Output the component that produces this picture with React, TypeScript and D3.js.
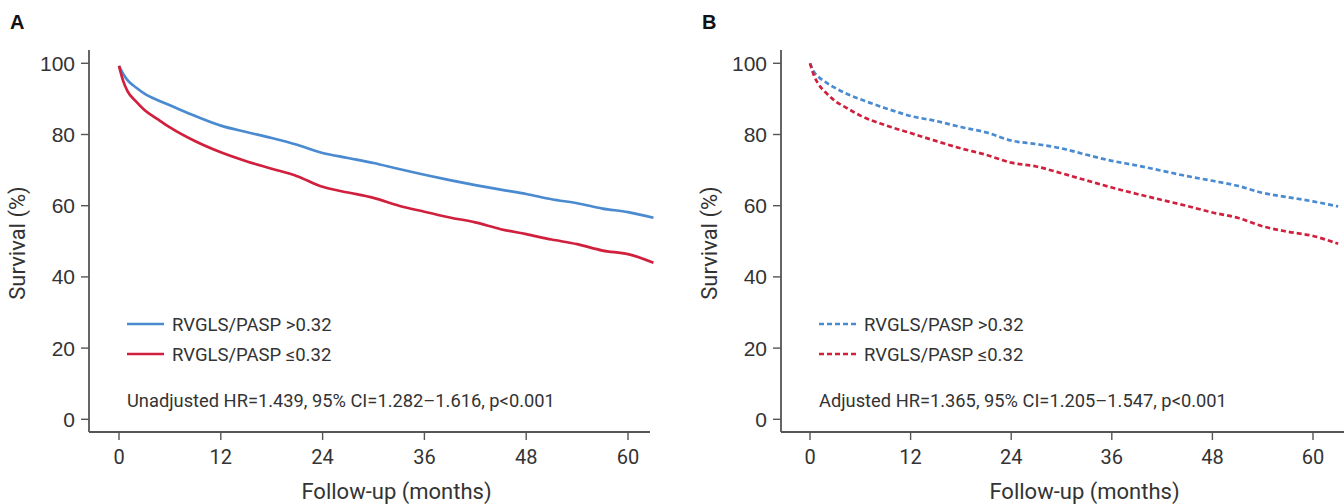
import React from "react";
import * as d3 from "d3";

const months = [0, 0.5, 1, 2, 3, 4.5, 6, 9, 12, 15, 18, 21, 24, 27, 30, 33, 36, 39, 42, 45, 48, 51, 54, 57, 60, 63];

const unadjHigh = [99.3, 97, 95.3, 93.2, 91.5, 89.7, 88.2, 85.2, 82.5, 80.7, 79, 77.1, 74.8, 73.4, 72, 70.3, 68.7, 67.2, 65.8, 64.5, 63.3, 61.8, 60.7, 59.2, 58.2, 56.6];
const unadjLow = [99.3, 95, 92.2, 89.3, 86.9, 84.4, 82, 78.1, 75, 72.5, 70.4, 68.3, 65.3, 63.7, 62.2, 60, 58.3, 56.7, 55.3, 53.4, 52, 50.5, 49.2, 47.4, 46.4, 44];

const adjMonths = [0, 0.5, 1, 2, 3, 4.5, 6, 9, 12, 15, 18, 21, 24, 27, 30, 33, 36, 39, 42, 45, 48, 51, 54, 57, 60, 63];
const adjHigh = [100, 97.5, 96.2, 94.5, 93.1, 91.3, 89.9, 87.4, 85.2, 83.8, 82.1, 80.6, 78.3, 77.3, 76.1, 74.3, 72.6, 71.3, 69.8, 68.3, 67, 65.6, 63.6, 62.4, 61.2, 59.8];
const adjLow = [100, 96.4, 94.2, 91.5, 89.4, 87.3, 85.3, 82.6, 80.4, 78.2, 76.1, 74.3, 72.1, 71, 69.1, 67.1, 65.1, 63.3, 61.6, 59.9, 58.1, 56.6, 54.2, 52.7, 51.5, 49.3];

const yTicks = [0, 20, 40, 60, 80, 100];
const xTicks = [0, 12, 24, 36, 48, 60];

const seriesLabels = ["RVGLS/PASP >0.32", "RVGLS/PASP \u22640.32"];
const hrTexts = [
  "Unadjusted HR=1.439, 95% CI=1.282\u20131.616, p<0.001",
  "Adjusted HR=1.365, 95% CI=1.205\u20131.547, p<0.001",
];
const panelLetters = ["A", "B"];

const BLUE = "#4a8ad0";
const RED = "#d0203e";
const AXIS = "#555";
const TXT = "#333";
const condensed = "'Roboto', 'Liberation Sans Narrow', sans-serif";
const helv = "'Liberation Sans', Arial, sans-serif";

type PanelProps = {
  ox: number;
  x0: number;
  x60: number;
  xEnd: number;
  letter: string;
  hr: string;
  xs: number[];
  high: number[];
  low: number[];
  dashed: boolean;
};

function Panel({ ox, x0, x60, xEnd, letter, hr, xs, high, low, dashed }: PanelProps) {
  const x = d3.scaleLinear().domain([0, 60]).range([x0, x60]);
  const y = d3.scaleLinear().domain([0, 100]).range([419.3, 63.3]);
  const axisY = 432;
  const axisTop = 50;
  const line = d3
    .line<number>()
    .x((_, i) => x(xs[i]))
    .y((d) => y(d))
    .curve(d3.curveMonotoneX);
  const dash = dashed ? "5 3" : undefined;
  const legX = ox + 38;
  return (
    <g>
      <text x={ox - 79} y={29} fontFamily={helv} fontWeight="bold" fontSize={20} fill="#111">
        {letter}
      </text>
      <line x1={ox} x2={ox} y1={axisTop} y2={axisY} stroke={AXIS} strokeWidth={1.8} />
      <line x1={ox} x2={xEnd} y1={axisY} y2={axisY} stroke={AXIS} strokeWidth={1.8} />
      {yTicks.map((t) => (
        <g key={"y" + t}>
          <line x1={ox - 8} x2={ox} y1={y(t)} y2={y(t)} stroke={AXIS} strokeWidth={1.4} />
          <text x={ox - 14} y={y(t)} dy="0.36em" textAnchor="end" fontFamily={helv} fontSize={21} fill={TXT}>
            {t}
          </text>
        </g>
      ))}
      {xTicks.map((t) => (
        <g key={"x" + t}>
          <line x1={x(t)} x2={x(t)} y1={axisY} y2={axisY + 8} stroke={AXIS} strokeWidth={1.4} />
          <text x={x(t)} y={axisY + 32} textAnchor="middle" fontFamily={condensed} fontSize={20} fill={TXT}>
            {t}
          </text>
        </g>
      ))}
      <text
        transform={`translate(${ox - 64},${243}) rotate(-90)`}
        textAnchor="middle"
        fontFamily={condensed}
        fontSize={22}
        fill={TXT}
      >
        Survival (%)
      </text>
      <text x={(x0 + x60) / 2 + 23} y={499} textAnchor="middle" fontFamily={condensed} fontSize={22} fill={TXT}>
        Follow-up (months)
      </text>
      <path d={line(high) || ""} fill="none" stroke={BLUE} strokeWidth={2.7} strokeDasharray={dash} />
      <path d={line(low) || ""} fill="none" stroke={RED} strokeWidth={2.7} strokeDasharray={dash} />
      {[BLUE, RED].map((c, i) => (
        <g key={c}>
          <line x1={legX} x2={legX + 37} y1={324 + i * 30} y2={324 + i * 30} stroke={c} strokeWidth={2.7} strokeDasharray={dash} />
          <text x={legX + 45} y={324 + i * 30} dy="0.36em" fontFamily={condensed} fontSize={18.5} fill={TXT}>
            {seriesLabels[i]}
          </text>
        </g>
      ))}
      <text x={legX} y={400} dy="0.36em" fontFamily={condensed} fontSize={18.3} fill={TXT}>
        {hr}
      </text>
    </g>
  );
}

export default function App() {
  return (
    <svg width={1344} height={504} style={{ position: "absolute", left: 0, top: 0, background: "#fff" }}>
      <rect width={1344} height={504} fill="#fff" />
      <Panel ox={89} x0={119} x60={628} xEnd={650} letter={panelLetters[0]} hr={hrTexts[0]} xs={months} high={unadjHigh} low={unadjLow} dashed={false} />
      <Panel ox={781} x0={810} x60={1313} xEnd={1344} letter={panelLetters[1]} hr={hrTexts[1]} xs={adjMonths} high={adjHigh} low={adjLow} dashed={true} />
    </svg>
  );
}
